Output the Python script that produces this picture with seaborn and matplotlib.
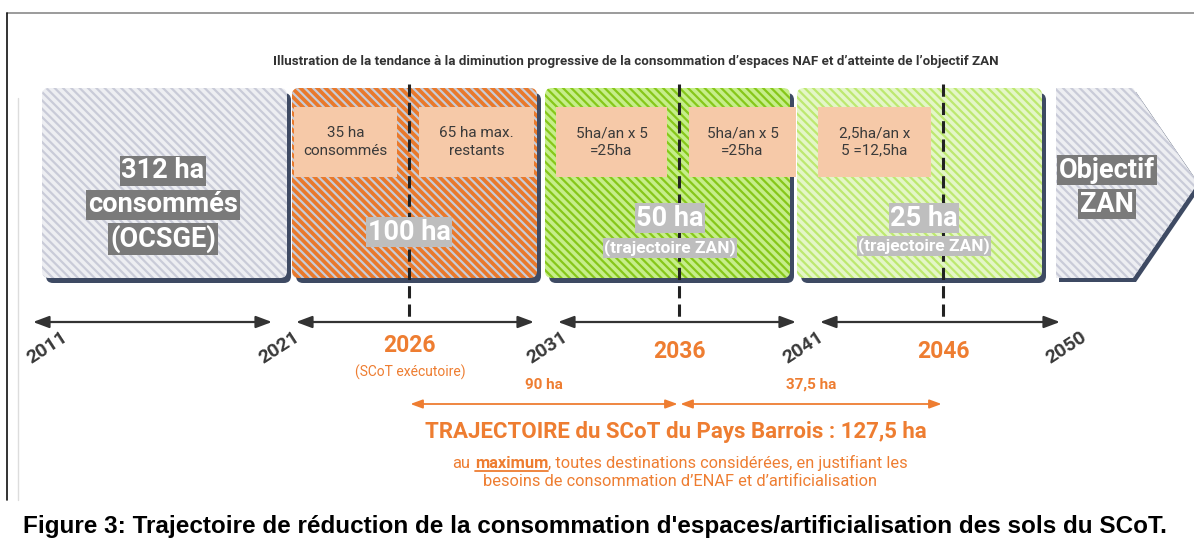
import numpy as np
import matplotlib.pyplot as plt
import seaborn as sns
from matplotlib.patches import FancyBboxPatch, Polygon

sns.set_theme(style='white')
plt.rcParams['font.family'] = ['Roboto', 'DejaVu Sans']
plt.rcParams['hatch.linewidth'] = 1.6

# ---- data ----
bounds = [2011, 2021, 2031, 2041, 2050]
mid_years = [2026, 2036, 2046]
mid_notes = ['(SCoT exécutoire)', '', '']

block_lines = [['312 ha', 'consommés', '(OCSGE)'],
               ['100 ha'],
               ['50 ha', '(trajectoire ZAN)'],
               ['25 ha', '(trajectoire ZAN)'],
               ['Objectif', 'ZAN']]

half_periods = [(2021, 2026), (2026, 2031), (2031, 2036), (2036, 2041), (2041, 2046)]
half_texts = ['35 ha\nconsommés', '65 ha max.\nrestants', '5ha/an x 5\n=25ha',
              '5ha/an x 5\n=25ha', '2,5ha/an x\n5 =12,5ha']

traj_spans = [(2026, 2036), (2036, 2046)]
traj_values = [90, 37.5]
traj_total = 127.5

title = "Illustration de la tendance à la diminution progressive de la consommation d’espaces NAF et d’atteinte de l’objectif ZAN"
caption = "Figure 3: Trajectoire de réduction de la consommation d'espaces/artificialisation des sols du SCoT."

# ---- colours ----
orange = '#EE7D31'
shadow = '#3E4A63'
fills = ['#EDEEF2', '#E9792B', '#C6EE8A', '#E4F6C8', '#EDEEF2']
stripes = ['#C9CBD8', '#C8CCD8', '#86C71A', '#BDE870', '#C9CBD8']
label_bg = ['#7A7A7A', '#BEBEBE', '#BEBEBE', '#BEBEBE', '#7A7A7A']

# piecewise timeline scale (pixel position of each year)
anchor_years = [2011, 2021, 2026, 2031, 2036, 2041, 2046, 2050]
anchor_x = [21, 284, 409, 546, 679, 808, 943, 1072]


def xpos(year):
    return float(np.interp(year, anchor_years, anchor_x))


fig = plt.figure(figsize=(11.94, 5.43), dpi=100)
ax = fig.add_axes([0, 0, 1, 1])
ax.set_xlim(0, 1194)
ax.set_ylim(543, 0)
ax.axis('off')

# frame lines of the original page
ax.plot([7, 1194], [13, 13], color='#8a8a8a', lw=1.2)
ax.plot([7, 7], [13, 500], color='#111111', lw=1.2)
ax.plot([18, 18], [98, 500], color='#dddddd', lw=1.0)

ax.text(636, 62, title, ha='center', va='center', fontsize=9.6,
        fontweight='bold', color='#333333')

# ---- blocks ----
top, h = 88, 190
lefts = [42, 292, 545, 797]
w = 245
hatch = '\\' * 4
for i in range(4):
    x0 = lefts[i]
    ax.add_patch(FancyBboxPatch((x0 + 4, top + 5), w, h,
                                boxstyle='round,pad=0,rounding_size=7',
                                fc=shadow, ec='none', zorder=1))
    ax.add_patch(FancyBboxPatch((x0, top), w, h,
                                boxstyle='round,pad=0,rounding_size=7',
                                fc=fills[i], ec='none', zorder=2))
    ax.add_patch(FancyBboxPatch((x0, top), w, h,
                                boxstyle='round,pad=0,rounding_size=7',
                                fill=False, hatch=hatch, ec=stripes[i], lw=0,
                                zorder=3))

# chevron "Objectif ZAN"
chev = [(1056, top), (1133, top), (1198, top + 95), (1133, top + h), (1056, top + h)]
ax.add_patch(Polygon([(px + 3, py + 4) for px, py in chev], closed=True,
                     fc=shadow, ec='none', zorder=1))
ax.add_patch(Polygon(chev, closed=True, fc=fills[4], ec='none', zorder=2))
ax.add_patch(Polygon(chev, closed=True, fill=False, hatch=hatch,
                     ec=stripes[4], lw=0, zorder=3))

# salmon boxes with half-period text
for (a, b), txt in zip(half_periods, half_texts):
    x0, x1 = xpos(a) + 10, xpos(b) - 12
    ax.add_patch(FancyBboxPatch((x0, 107), x1 - x0, 70,
                                boxstyle='square,pad=0', fc='#F6C9A8',
                                ec='none', zorder=4))
    ax.text((x0 + x1) / 2, 142, txt, ha='center', va='center', fontsize=11,
            color='#3A3A3A', linespacing=1.3, zorder=5)

# big block labels
centers = [163, 409, 670, 924, 1107]
line_y = [[171, 205, 239], [232], [218, 248], [218, 246], [170, 204]]
for i, lines in enumerate(block_lines):
    for j, s in enumerate(lines):
        small = s.startswith('(trajectoire')
        ax.text(centers[i], line_y[i][j], s, ha='center', va='center',
                fontsize=12.5 if small else 19.5, fontweight='bold', color='white',
                zorder=7,
                bbox=dict(boxstyle='square,pad=0.06', fc=label_bg[i], ec='none'))

# dashed mid-period lines
for y in mid_years:
    ax.plot([xpos(y), xpos(y)], [84, 318], color='#222222', lw=2.2,
            dashes=(4, 2), zorder=6)

# ---- black timeline ----
for k in range(len(bounds) - 1):
    xa = xpos(bounds[k]) + 12
    xb = xpos(bounds[k + 1]) - 12
    ax.annotate('', xy=(xb, 322), xytext=(xa, 322),
                arrowprops=dict(arrowstyle='<|-|>,head_length=0.8,head_width=0.3',
                                color='#333333', lw=1.6, shrinkA=0, shrinkB=0))

label_shift = [26, -5, 1, -5, -6]
for yr, dx in zip(bounds, label_shift):
    ax.text(xpos(yr) + dx, 348, str(yr), ha='center', va='center', rotation=33,
            fontsize=14, fontweight='bold', color='#3a3a3a')

mid_y = [346, 352, 352]
for yr, yy, note in zip(mid_years, mid_y, mid_notes):
    ax.text(xpos(yr) + 1, yy, str(yr), ha='center', va='center', fontsize=16.5,
            fontweight='bold', color=orange)
    if note:
        ax.text(xpos(yr) + 1, 372, note, ha='center', va='center', fontsize=10,
                color=orange)

# ---- orange trajectory ----
for (a, b), v in zip(traj_spans, traj_values):
    ax.annotate('', xy=(xpos(b), 404), xytext=(xpos(a), 404),
                arrowprops=dict(arrowstyle='<|-|>,head_length=0.6,head_width=0.22',
                                color=orange, lw=1.3, shrinkA=1, shrinkB=1))
    lab = f'{v:g} ha'.replace('.', ',')
    ax.text((xpos(a) + xpos(b)) / 2, 385, lab, ha='center', va='center',
            fontsize=11, fontweight='bold', color=orange)

total_lab = f'{traj_total:g}'.replace('.', ',')
ax.text(676, 432, f'TRAJECTOIRE du SCoT du Pays Barrois : {total_lab} ha',
        ha='center', va='center', fontsize=16, fontweight='bold', color=orange)

# sub text with bold underlined "maximum"
fig.canvas.draw()
rend = fig.canvas.get_renderer()
parts = [('au', 'normal'), ('maximum', 'bold'),
         (', toutes destinations considérées, en justifiant les', 'normal')]
fs = 11.8
widths = []
for s, wgt in parts:
    t = ax.text(0, 0, s, fontsize=fs, fontweight=wgt)
    widths.append(t.get_window_extent(rend).width)
    t.remove()
gap = 0.28 * fs * 100 / 72
total = sum(widths) + gap
x = 680 - total / 2
for k, ((s, wgt), wd) in enumerate(zip(parts, widths)):
    ax.text(x, 463, s, ha='left', va='center', fontsize=fs, fontweight=wgt,
            color=orange)
    if wgt == 'bold':
        ax.plot([x, x + wd], [471, 471], color=orange, lw=1.3)
    x += wd + (gap if k == 0 else 0)

ax.text(680, 482, 'besoins de consommation d’ENAF et d’artificialisation',
        ha='center', va='center', fontsize=fs, color=orange)

ax.text(595, 526, caption, ha='center', va='center', fontsize=17.5,
        fontweight='bold', color='black', family=['Liberation Sans', 'DejaVu Sans'])

fig.savefig('out.png', dpi=100)
